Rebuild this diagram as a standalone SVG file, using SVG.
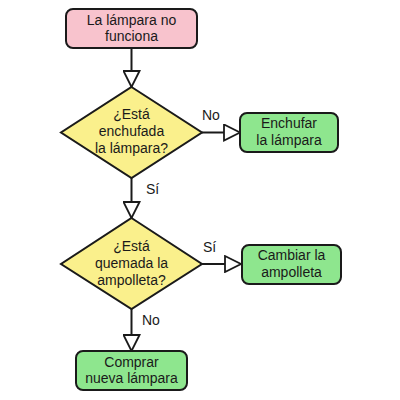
<svg xmlns="http://www.w3.org/2000/svg" width="400" height="400" viewBox="0 0 400 400">
<defs>
<style>
.box{stroke:#1a1a1a;stroke-width:2}
.start{fill:#f8c3cd}
.act{fill:#8ee68e}
.dec{fill:#faf08c;stroke:#1a1a1a;stroke-width:2}
.lbl{font-family:"Liberation Sans",Arial,sans-serif;font-size:14px;fill:#1a1a1a;text-anchor:middle}
.edge{stroke:#1a1a1a;stroke-width:2;fill:none}
.lab{font-family:"Liberation Sans",Arial,sans-serif;font-size:14px;fill:#1a1a1a}
</style>
<marker id="arr" viewBox="0 0 18 18" refX="17" refY="9" markerWidth="18" markerHeight="18" markerUnits="userSpaceOnUse" orient="auto">
<path d="M1,1 L17,9 L1,17 Z" fill="#fff" stroke="#1a1a1a" stroke-width="1.8"/>
</marker>
</defs>
<g id="connectors">
<path class="edge" d="M131.5,48 V87" marker-end="url(#arr)"/>
<path class="edge" d="M202,132.5 H240" marker-end="url(#arr)"/>
<path class="edge" d="M131.5,178 V218" marker-end="url(#arr)"/>
<path class="edge" d="M202,264 H241" marker-end="url(#arr)"/>
<path class="edge" d="M131.5,309 V351" marker-end="url(#arr)"/>
<text class="lab" x="202" y="120">No</text>
<text class="lab" x="146" y="194">Sí</text>
<text class="lab" x="203" y="252">Sí</text>
<text class="lab" x="142" y="325">No</text>
</g>
<g id="n1">
<rect class="box start" x="66" y="9" width="131" height="39" rx="7"/>
<text class="lbl" x="131.5" y="25">La lámpara no</text>
<text class="lbl" x="131.5" y="41">funciona</text>
</g>
<g id="n2">
<polygon class="dec" points="131.5,87 202,132.5 131.5,178 61,132.5"/>
<text class="lbl" x="131.5" y="119">¿Está</text>
<text class="lbl" x="131.5" y="136">enchufada</text>
<text class="lbl" x="131.5" y="153">la lámpara?</text>
</g>
<g id="n3">
<rect class="box act" x="240" y="113" width="98" height="39" rx="7"/>
<text class="lbl" x="289" y="128">Enchufar</text>
<text class="lbl" x="289" y="145">la lámpara</text>
</g>
<g id="n4">
<polygon class="dec" points="131.5,218 202,264 131.5,309 61,264"/>
<text class="lbl" x="131.5" y="251">¿Está</text>
<text class="lbl" x="131.5" y="268">quemada la</text>
<text class="lbl" x="131.5" y="285">ampolleta?</text>
</g>
<g id="n5">
<rect class="box act" x="242" y="245" width="99" height="39" rx="7"/>
<text class="lbl" x="291.5" y="260">Cambiar la</text>
<text class="lbl" x="291.5" y="277">ampolleta</text>
</g>
<g id="n6">
<rect class="box act" x="76" y="351" width="111" height="39" rx="7"/>
<text class="lbl" x="131.5" y="367">Comprar</text>
<text class="lbl" x="131.5" y="383">nueva lámpara</text>
</g>
</svg>
